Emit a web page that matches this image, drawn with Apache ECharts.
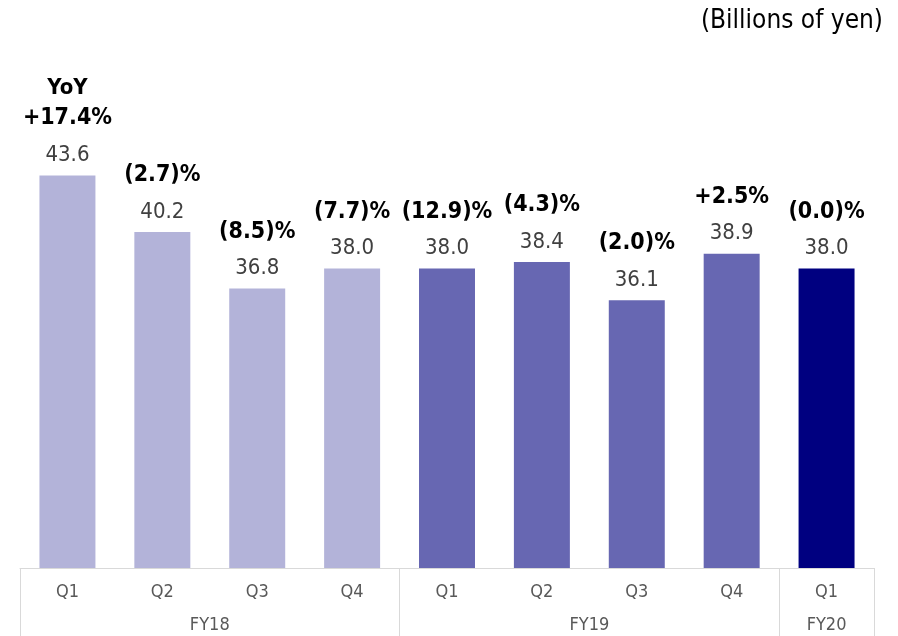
<!DOCTYPE html>
<html>
<head>
<meta charset="utf-8">
<script src="https://cdn.jsdelivr.net/npm/echarts@6/dist/echarts.min.js"></script>
<style>
  html, body { margin: 0; padding: 0; background: #fff; }
  #chart { width: 898px; height: 636px; }
</style>
</head>
<body>
<div id="chart"></div>
<script>
// data
const quarters = ['Q1', 'Q2', 'Q3', 'Q4', 'Q1', 'Q2', 'Q3', 'Q4', 'Q1'];
const fiscalYears = ['FY18', 'FY19', 'FY20'];
const quartersPerYear = [4, 4, 1];
const sales = [43.6, 40.2, 36.8, 38.0, 38.0, 38.4, 36.1, 38.9, 38.0];
const yoyChange = ['+17.4%', '(2.7)%', '(8.5)%', '(7.7)%', '(12.9)%', '(4.3)%', '(2.0)%', '+2.5%', '(0.0)%'];

const FONT = "'DejaVu Sans Condensed', 'DejaVu Sans', sans-serif";
const yearColors = ['#b3b3d9', '#6767b2', '#000080'];

// year boundaries / centres on a 0..N value scale
const bounds = [0];
quartersPerYear.forEach(n => bounds.push(bounds[bounds.length - 1] + n));
const centres = fiscalYears.map((_, i) => (bounds[i] + bounds[i + 1]) / 2);
const yearOf = idx => bounds.findIndex(b => b > idx) - 1;

let myChart = echarts.init(document.getElementById('chart'));
myChart.setOption({
  animation: false,
  textStyle: { fontFamily: FONT },
  title: {
    text: '(Billions of yen)',
    right: 10,
    top: 3,
    textStyle: { fontFamily: FONT, fontSize: 26, fontWeight: 'normal', color: '#000' }
  },
  grid: { left: 20, right: 24, top: 69, bottom: 68 },
  xAxis: [
    {
      type: 'category',
      data: quarters,
      axisLine: { show: true, lineStyle: { color: '#d9d9d9', width: 1 } },
      axisTick: { show: false },
      axisLabel: { margin: 15, fontSize: 18, color: '#595959', fontFamily: FONT }
    },
    {
      // fiscal-year row
      type: 'value',
      min: 0,
      max: bounds[bounds.length - 1],
      position: 'bottom',
      axisLine: { show: false },
      splitLine: { show: false },
      axisTick: {
        show: true,
        customValues: bounds,
        length: 68,
        lineStyle: { color: '#d9d9d9', width: 1 }
      },
      axisLabel: {
        customValues: centres,
        margin: 48,
        fontSize: 18,
        color: '#595959',
        fontFamily: FONT,
        formatter: v => fiscalYears[centres.indexOf(v)] || ''
      }
    }
  ],
  yAxis: { type: 'value', min: 20, max: 50, show: false },
  series: [{
    type: 'bar',
    xAxisIndex: 0,
    data: sales,
    barWidth: '59%',
    itemStyle: { color: p => yearColors[yearOf(p.dataIndex)] },
    label: {
      show: true,
      position: 'top',
      distance: 0,
      formatter: p => {
        const head = p.dataIndex === 0 ? '{h|YoY}\n' : '';
        return head + '{y|' + yoyChange[p.dataIndex] + '}\n{v|' + p.value.toFixed(1) + '}';
      },
      rich: {
        h: { fontFamily: FONT, fontSize: 22, fontWeight: 'bold', color: '#000', lineHeight: 26 },
        y: { fontFamily: FONT, fontSize: 23, fontWeight: 'bold', color: '#000', lineHeight: 34 },
        v: { fontFamily: FONT, fontSize: 22, color: '#404040', lineHeight: 40 }
      }
    }
  }]
});
window.onresize = function () { myChart.resize(); };
</script>
</body>
</html>
